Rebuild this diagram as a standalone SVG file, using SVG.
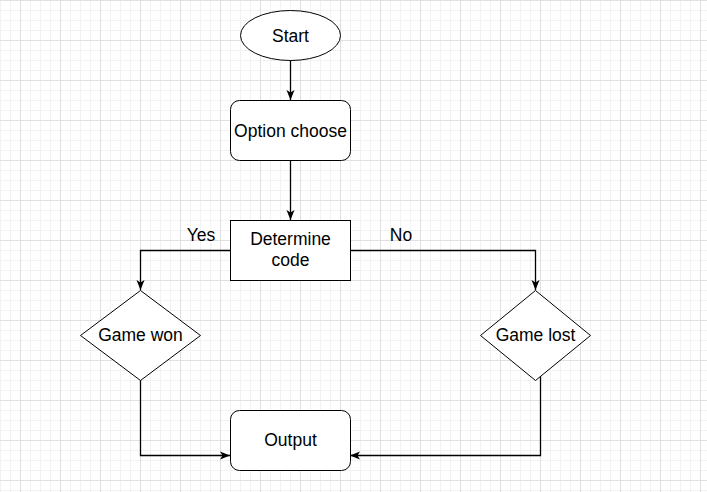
<svg xmlns="http://www.w3.org/2000/svg" width="707" height="492" viewBox="0 0 707 492">
<style>
.shape{fill:#fff;stroke:#000;stroke-width:1}
.conn{fill:none;stroke:#000;stroke-width:1.3}
.lbl{font-family:"Liberation Sans",Arial,sans-serif;font-size:17.5px;fill:#000;text-anchor:middle}
</style>
<defs>
<pattern id="grid" width="40" height="40" patternUnits="userSpaceOnUse" x="20" y="0">
<path d="M10.5,0V40M20.5,0V40M30.5,0V40M0,10.5H40M0,20.5H40M0,30.5H40" stroke="#f2f2f2" stroke-width="1" fill="none"/>
<path d="M0.5,0V40M0,0.5H40" stroke="#e0e0e0" stroke-width="1" fill="none"/>
</pattern>
<marker id="arr" markerUnits="userSpaceOnUse" markerWidth="11" markerHeight="10" refX="10" refY="4.5" orient="auto">
<path d="M0,0.5L10,4.5L0,8.5L2.5,4.5Z" fill="#000"/>
</marker>
</defs>
<rect width="707" height="492" fill="#fff"/>
<rect width="707" height="492" fill="url(#grid)"/>
<g id="connectors">
<path class="conn" d="M290.5,60V100" marker-end="url(#arr)"/>
<path class="conn" d="M290.5,160V220" marker-end="url(#arr)"/>
<path class="conn" d="M230,250.5H140.5V290" marker-end="url(#arr)"/>
<path class="conn" d="M350,250.5H535.5V290" marker-end="url(#arr)"/>
<path class="conn" d="M140.5,380V455.5H230" marker-end="url(#arr)"/>
<path class="conn" d="M540.5,376V455.5H350" marker-end="url(#arr)"/>
<text class="lbl" x="201" y="241">Yes</text>
<text class="lbl" x="401" y="241">No</text>
</g>
<g id="start">
<ellipse class="shape" cx="290.5" cy="35.5" rx="50" ry="25"/>
<text class="lbl" x="290.5" y="41.5">Start</text>
</g>
<g id="option">
<rect class="shape" x="230.5" y="100.5" width="120" height="60" rx="9"/>
<text class="lbl" x="290.5" y="136.5">Option choose</text>
</g>
<g id="determine">
<rect class="shape" x="230.5" y="220.5" width="120" height="60"/>
<text class="lbl" x="290.5" y="245">Determine</text>
<text class="lbl" x="290.5" y="266">code</text>
</g>
<g id="won">
<path class="shape" d="M140.5,290.5L200.5,335.5L140.5,380.5L80.5,335.5Z"/>
<text class="lbl" x="140.5" y="341">Game won</text>
</g>
<g id="lost">
<path class="shape" d="M535.5,290.5L590.5,335.5L535.5,380.5L480.5,335.5Z"/>
<text class="lbl" x="535.5" y="341">Game lost</text>
</g>
<g id="output">
<rect class="shape" x="230.5" y="410.5" width="120" height="60" rx="9"/>
<text class="lbl" x="290.5" y="446">Output</text>
</g>
</svg>
